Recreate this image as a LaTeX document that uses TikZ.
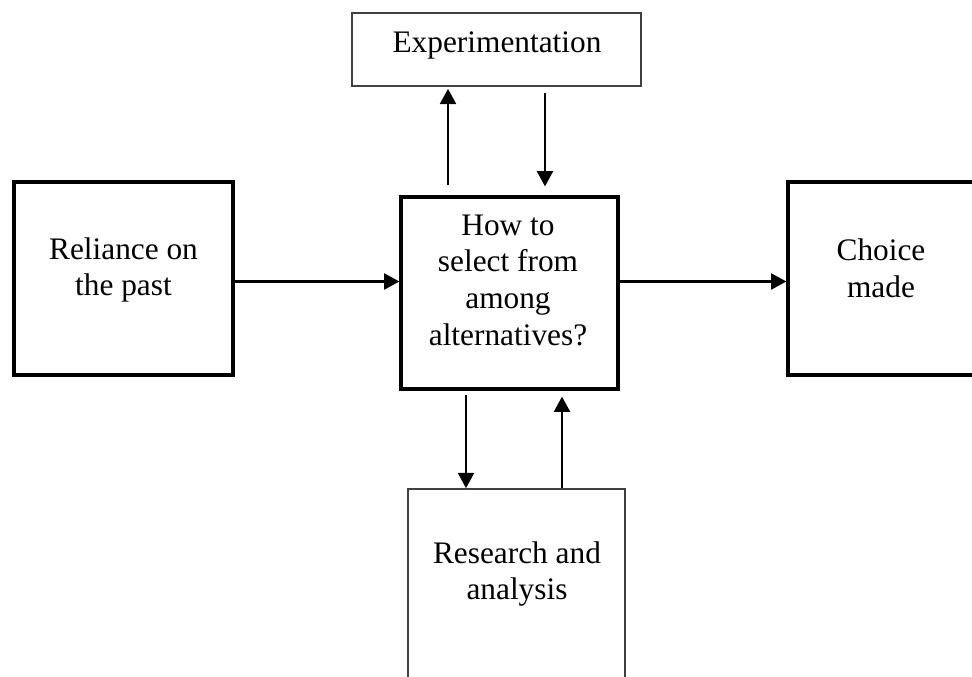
\documentclass[tikz,border=0pt]{standalone}
\usepackage{fontspec}
\setmainfont{Liberation Serif}
\usetikzlibrary{arrows.meta}
\begin{document}
\begin{tikzpicture}[x=0.75pt,y=-0.75pt,
  heavybox/.style={draw=black, line width=2.4pt, rectangle, inner sep=0pt},
  lightbox/.style={draw=black!75, line width=1.2pt, rectangle, inner sep=0pt},
  label/.style={align=center, font=\fontsize{23.5pt}{27.5pt}\selectfont, inner sep=0pt},
  arr/.style={line width=1.8pt, -{Triangle[length=11.5pt,width=12pt]}}]
\useasboundingbox (0,0) rectangle (972,677);
\clip (0,0) rectangle (972,677);

% boxes
\node[heavybox, minimum width=164.25pt, minimum height=144.75pt] (past) at (123.5,278.5) {};
\node[label] at (123.5,270) {Reliance on\\the past};

\node[heavybox, minimum width=162.75pt, minimum height=144pt] (how) at (509.5,293) {};
\node[label] at (508,280) {How to\\select from\\among\\alternatives?};

\node[heavybox, minimum width=141pt, minimum height=144.75pt] (choice) at (882,278.5) {};
\node[label] at (881,268) {Choice\\made};

\node[lightbox, minimum width=216.75pt, minimum height=54.75pt] (exp) at (496.5,49.5) {};
\node[label] at (497,45.5) {Experimentation};

\node[lightbox, minimum width=162.75pt, minimum height=158.25pt] (res) at (516.5,594.5) {};
\node[label] at (517,574) {Research and\\analysis};

% reference lines for connector positions
\coordinate (midrow) at (0,281.5);
\coordinate (upx) at (448,0);
\coordinate (downx) at (545,0);
\coordinate (botdown) at (466,0);
\coordinate (botup) at (562,0);

% connectors
\draw[arr] (past.east |- midrow) -- (how.west |- midrow);
\draw[arr] (how.east |- midrow) -- (choice.west |- midrow);
\draw[arr, shorten <=10pt*0.75, shorten >=2pt*0.75] (how.north -| upx) -- (exp.south -| upx);
\draw[arr, shorten <=6pt*0.75, shorten >=9pt*0.75] (exp.south -| downx) -- (how.north -| downx);
\draw[arr, shorten <=4pt*0.75] (how.south -| botdown) -- (res.north -| botdown);
\draw[arr, shorten >=6pt*0.75] (res.north -| botup) -- (how.south -| botup);
\end{tikzpicture}
\end{document}
